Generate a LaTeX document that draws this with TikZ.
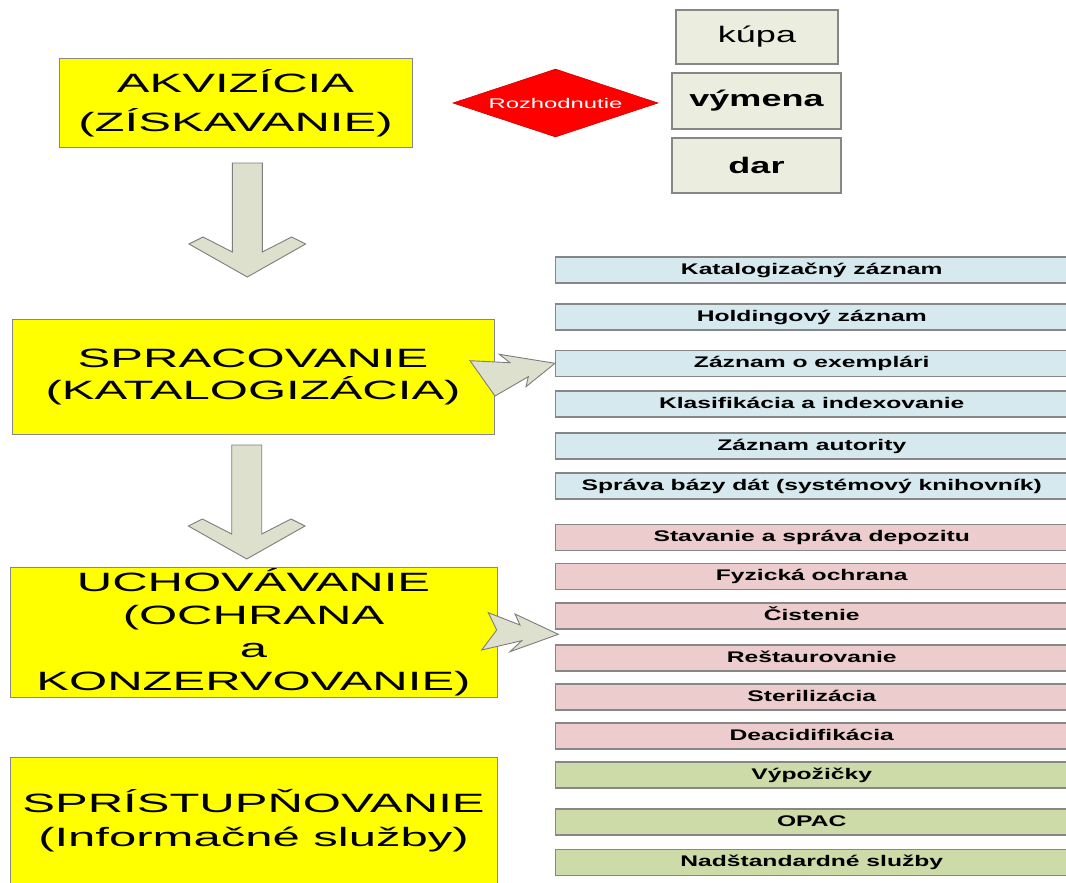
\documentclass[tikz,border=0pt]{standalone}
\usepackage{fontspec}
\setmainfont{Liberation Sans}
\newfontfamily\bigf[FakeStretch=1.85]{Liberation Sans}
\newfontfamily\smf[FakeStretch=1.6]{Liberation Sans}
\newfontfamily\rzf[FakeStretch=1.7]{Liberation Sans}
\usetikzlibrary{shapes.geometric}
\definecolor{yel}{RGB}{255,255,0}
\definecolor{boxgray}{RGB}{135,135,135}
\definecolor{beige}{RGB}{235,238,222}
\definecolor{lblue}{RGB}{213,233,239}
\definecolor{lpink}{RGB}{236,204,204}
\definecolor{lgreen}{RGB}{205,219,168}
\definecolor{arrfill}{RGB}{221,224,204}
\definecolor{arrline}{RGB}{125,125,125}
\begin{document}
\begin{tikzpicture}[x=1pt,y=-1pt,
  bigbox/.style={draw=boxgray, fill=yel, line width=1pt, inner sep=0pt, align=center},
  bigtext/.style={font=\bigf\fontsize{26.5}{#1}\selectfont},
  optbox/.style={draw=boxgray, fill=beige, line width=1.5pt, inner sep=0pt,
     font=\smf\fontsize{22.5}{26}\selectfont},
  listbox/.style={draw=boxgray, line width=1.3pt, inner sep=0pt,
     minimum width=512.5pt, minimum height=26pt, text height=11pt, text depth=3pt,
     font=\smf\bfseries\fontsize{15.4}{18}\selectfont},
  blockarrow/.style={draw=arrline, fill=arrfill, line width=0.9pt, line join=miter},
  downarr/.pic={\path[blockarrow] (-15,0) -- (-15,89) -- (-44.3,74) -- (-58.3,81) -- (0,114)
     -- (58.3,81) -- (44.3,74) -- (15,89) -- (15,0) -- cycle;}
]
\useasboundingbox (0,0) rectangle (1066,883);
\clip (0,0) rectangle (1066,883);
\fill[white] (0,0) rectangle (1066,883);

% main yellow boxes
\node[bigbox, bigtext=39, minimum width=353pt, minimum height=88pt] (akv) at (235.5,103)
  {AKVIZÍCIA\\(ZÍSKAVANIE)};
\node[bigbox, bigtext=32, minimum width=482pt, minimum height=115pt] (spr) at (253,376.5)
  {SPRACOVANIE\\(KATALOGIZÁCIA)};
\node[bigbox, bigtext=33, minimum width=487pt, minimum height=130pt] (uch) at (253.5,632)
  {UCHOVÁVANIE\\(OCHRANA\\a\\KONZERVOVANIE)};
\node[bigbox, bigtext=34, minimum width=487pt, minimum height=127pt] (sprist) at (253.5,820.5)
  {SPRÍSTUPŇOVANIE\\(Informačné služby)};

% decision diamond
\node[diamond, aspect=3, fill=red, draw=red!80!black, line width=0.6pt, inner sep=0pt,
  minimum width=205pt, minimum height=68pt, text=white,
  font=\rzf\fontsize{14}{16}\selectfont] (roz) at (555.5,103) {Rozhodnutie};

% options
\node[optbox, minimum width=162pt, minimum height=54pt] (kupa) at (757,37) {kúpa};
\node[optbox, minimum width=169pt, minimum height=56pt, font=\smf\bfseries\fontsize{22.5}{26}\selectfont] (vymena) at (756.5,101) {výmena};
\node[optbox, minimum width=169pt, minimum height=55pt, font=\smf\bfseries\fontsize{22.5}{26}\selectfont] (dar) at (756.5,165.5) {dar};

% list boxes
\node[listbox, fill=lblue] (kat) at (811.75,270) {Katalogizačný záznam};
\node[listbox, fill=lblue] (hold) at (811.75,317) {Holdingový záznam};
\node[listbox, fill=lblue] (exe) at (811.75,363.5) {Záznam o exemplári};
\node[listbox, fill=lblue] (kla) at (811.75,404) {Klasifikácia a indexovanie};
\node[listbox, fill=lblue] (aut) at (811.75,446) {Záznam autority};
\node[listbox, fill=lblue] (sbd) at (811.75,486) {Správa bázy dát (systémový knihovník)};

\node[listbox, fill=lpink] (sta) at (811.75,537.5) {Stavanie a správa depozitu};
\node[listbox, fill=lpink] (fyz) at (811.75,576.5) {Fyzická ochrana};
\node[listbox, fill=lpink] (cis) at (811.75,616) {Čistenie};
\node[listbox, fill=lpink] (res) at (811.75,658) {Reštaurovanie};
\node[listbox, fill=lpink] (ste) at (811.75,697) {Sterilizácia};
\node[listbox, fill=lpink] (dea) at (811.75,736) {Deacidifikácia};

\node[listbox, fill=lgreen] (vyp) at (811.75,775) {Výpožičky};
\node[listbox, fill=lgreen] (opac) at (811.75,822) {OPAC};
\node[listbox, fill=lgreen] (nad) at (811.75,862.5) {Nadštandardné služby};

% down block arrows
\pic at (247.3,163) {downarr};
\pic at (246.7,445) {downarr};

% right block arrows
\path[blockarrow] (470,360.7) -- (510,362.7) -- (499.3,354.3) -- (555,363.3) -- (526,386.7)
  -- (528.3,376.7) -- (495,396) -- cycle;
\path[blockarrow] (488.3,612.7) -- (520,625) -- (515,614) -- (558.3,634.3) -- (510,651.7)
  -- (521.7,640.7) -- (481.7,650) -- (496.7,630) -- cycle;
\end{tikzpicture}
\end{document}
